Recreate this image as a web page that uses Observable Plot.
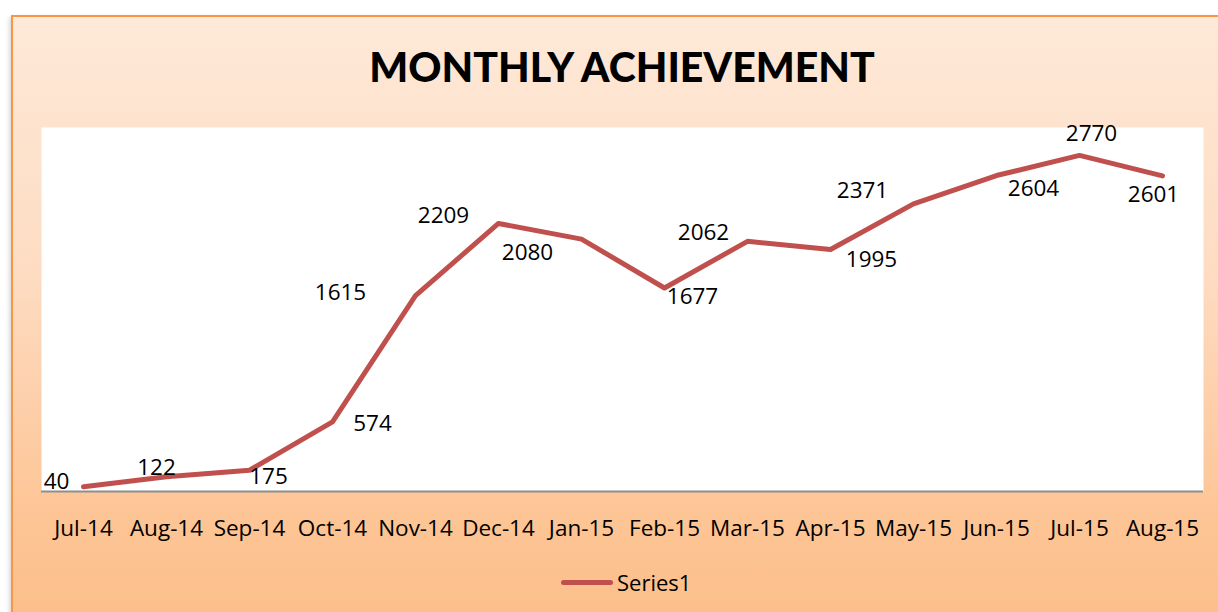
<!DOCTYPE html>
<html>
<head>
<meta charset="utf-8">
<script src="https://cdn.jsdelivr.net/npm/d3@7"></script>
<script src="https://cdn.jsdelivr.net/npm/@observablehq/plot@0.6"></script>
<style>
  html, body { margin: 0; padding: 0; width: 1218px; height: 612px; overflow: hidden; background: #ffffff; }
  #frame {
    position: absolute; left: 11px; top: 15px; width: 1240px; height: 640px;
    border: 2px solid #F79646; box-sizing: border-box;
    background: linear-gradient(to bottom, #FEE9D8 0%, #FDDCC2 40%, #FDC494 80%, #FCBD88 100%);
    box-shadow: -2px 2px 4px rgba(0,0,0,0.15);
  }
  #title {
    position: absolute; left: 13px; top: 42px; width: 1218px; text-align: center;
    font-family: Lato, "Open Sans", sans-serif; font-weight: 900; font-size: 41px; color: #000;
  }
  #chart { position: absolute; left: 0; top: 0; }
  #legend {
    position: absolute; left: 561px; top: 567px; display: flex; align-items: center;
    font-family: "Open Sans", Lato, sans-serif; font-size: 22px; color: #000;
  }
  #legend .sw { width: 52px; height: 5px; border-radius: 3px; background: #C0504D; margin-right: 4px; }
</style>
</head>
<body>
<div id="frame"></div>
<div id="title">MONTHLY ACHIEVEMENT</div>
<div id="chart"></div>
<div id="legend"><div class="sw"></div><span>Series1</span></div>
<script>
const months = ["Jul-14","Aug-14","Sep-14","Oct-14","Nov-14","Dec-14","Jan-15","Feb-15","Mar-15","Apr-15","May-15","Jun-15","Jul-15","Aug-15"];
const values = [40, 122, 175, 574, 1615, 2209, 2080, 1677, 2062, 1995, 2371, 2604, 2770, 2601];
const seriesName = "Series1";

const data = months.map((m, i) => ({month: m, value: values[i]}));

// label placement offsets (relative, as in the original's data-label layout)
const labelOffsets = [[-27,-5],[-10,-9],[19,7],[40,2],[-75,-3],[-55,-8],[-54,14],[28,9],[-44,-9],[41,10],[-51,-13],[37,13],[12,-22],[-9,19]];

const fontFam = "'Open Sans', Lato, sans-serif";

const plot = Plot.plot({
  width: 1218,
  height: 545,
  marginLeft: 41,
  marginRight: 15,
  marginTop: 127,
  marginBottom: 54,
  style: { background: "transparent", fontFamily: fontFam, fontSize: "22px", color: "#000" },
  x: { type: "point", domain: months, padding: 0.5, label: null },
  y: { domain: [0, 3000], axis: null },
  marks: [
    Plot.frame({ fill: "white", stroke: "none" }),
    Plot.ruleY([0], { stroke: "#8e8e8e", strokeWidth: 2 }),
    Plot.axisX({ tickSize: 0, tickPadding: 29, fontSize: 22.5, fill: "#000", label: null }),
    Plot.line(data, { x: "month", y: "value", stroke: "#C0504D", strokeWidth: 5, strokeLinejoin: "round", strokeLinecap: "round" }),
    ...labelOffsets.map((o, i) => Plot.text([data[i]], {
      x: "month", y: "value", text: d => String(d.value), dx: o[0], dy: o[1],
      fontSize: 22.5, fill: "#000"
    }))
  ]
});
document.getElementById("chart").appendChild(plot);
</script>
</body>
</html>
